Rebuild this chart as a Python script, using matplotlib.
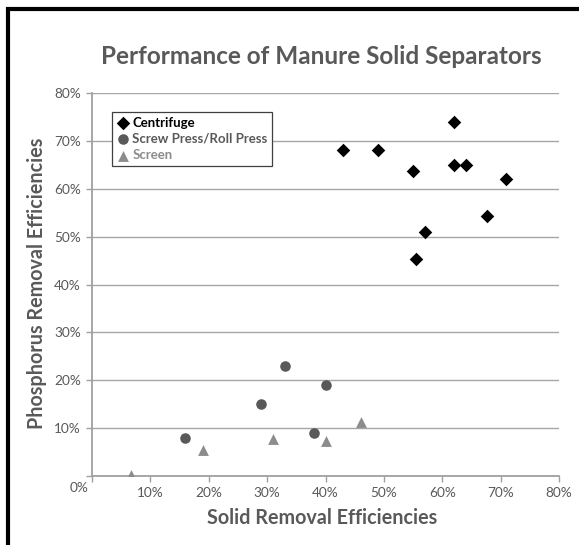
import numpy as np
import matplotlib
matplotlib.use("Agg")
import matplotlib.pyplot as plt
from matplotlib.lines import Line2D
from matplotlib.ticker import FuncFormatter, MultipleLocator

plt.rcParams['font.family'] = ['Lato', 'DejaVu Sans']

# data (fractions)
centrifuge_x = [0.62, 0.43, 0.49, 0.55, 0.62, 0.64, 0.71, 0.676, 0.57, 0.555]
centrifuge_y = [0.74, 0.68, 0.68, 0.637, 0.65, 0.65, 0.62, 0.544, 0.51, 0.453]
screw_x = [0.33, 0.40, 0.29, 0.16, 0.38]
screw_y = [0.23, 0.19, 0.15, 0.08, 0.09]
screen_x = [0.067, 0.19, 0.31, 0.40, 0.46]
screen_y = [0.002, 0.054, 0.078, 0.073, 0.113]

series_names = ['Centrifuge', 'Screw Press/Roll Press', 'Screen']
series_colors = ['#000000', '#595959', '#8c8c8c']

W, H = 579, 545
fig = plt.figure(figsize=(W / 100, H / 100), dpi=100)
fig.patch.set_facecolor('white')

# axes box in pixels: left 92, right 559, top 93, bottom 476
ax = fig.add_axes([92 / W, 1 - 476 / H, 467 / W, 383 / H])
ax.set_xlim(0, 0.8)
ax.set_ylim(0, 0.8)

grid_c = '#a6a6a6'
ax.xaxis.set_major_locator(MultipleLocator(0.1))
ax.yaxis.set_major_locator(MultipleLocator(0.1))
ax.yaxis.grid(True, color=grid_c, lw=1.0)
ax.set_axisbelow(True)
for s in ['top', 'right']:
    ax.spines[s].set_visible(False)
for s in ['left', 'bottom']:
    ax.spines[s].set_color('#a0a0a0')
    ax.spines[s].set_linewidth(1.3)

pct = lambda v, p: '' if abs(v) < 1e-9 else f'{v * 100:.0f}%'
ax.xaxis.set_major_formatter(FuncFormatter(pct))
ax.yaxis.set_major_formatter(FuncFormatter(pct))
ax.tick_params(axis='both', colors='#a0a0a0', labelcolor='#595959',
               labelsize=9.8, length=4, width=1, direction='out')
ax.tick_params(axis='x', pad=4)
ax.tick_params(axis='y', pad=4)
ax.text(-0.006, -0.012, '0%', transform=ax.transData, ha='right', va='top',
        fontsize=9.8, color='#595959')

ax.scatter(centrifuge_x, centrifuge_y, marker='D', s=6.9 ** 2,
           color=series_colors[0], label=series_names[0], zorder=3, linewidths=0)
ax.scatter(screw_x, screw_y, marker='o', s=7.6 ** 2,
           color=series_colors[1], label=series_names[1], zorder=3, linewidths=0)
ax.scatter(screen_x, screen_y, marker='^', s=7.8 ** 2,
           color=series_colors[2], label=series_names[2], zorder=3, linewidths=0)

leg = ax.legend(loc='upper left', bbox_to_anchor=(112 / W, 1 - 112 / H),
                bbox_transform=fig.transFigure, frameon=True, fancybox=False,
                edgecolor='#404040', framealpha=1, borderpad=0.35,
                handletextpad=0.3, handlelength=0.9, labelspacing=0.32,
                prop={'size': 9.5, 'weight': 'bold'}, borderaxespad=0)
leg.get_frame().set_linewidth(0.9)
for t, c in zip(leg.get_texts(), series_colors):
    t.set_color(c)

fig.text(321 / W, 1 - 56 / H, 'Performance of Manure Solid Separators',
         ha='center', va='center', fontsize=17.5, fontweight='bold', color='#595959')
fig.text(322 / W, 1 - 518 / H, 'Solid Removal Efficiencies',
         ha='center', va='center', fontsize=14.2, fontweight='bold', color='#595959')
fig.text(37 / W, 1 - 283 / H, 'Phosphorus Removal Efficiencies', rotation=90,
         ha='center', va='center', fontsize=14.2, fontweight='bold', color='#595959')

# black frame lines at the left and top of the picture
fig.add_artist(Line2D([8 / W, 8 / W], [0, 1 - 7 / H], transform=fig.transFigure,
                      color='black', lw=3, solid_capstyle='butt'))
fig.add_artist(Line2D([6 / W, 1], [1 - 9 / H, 1 - 9 / H], transform=fig.transFigure,
                      color='black', lw=3, solid_capstyle='butt'))

fig.savefig('out.png', dpi=100, facecolor='white')
